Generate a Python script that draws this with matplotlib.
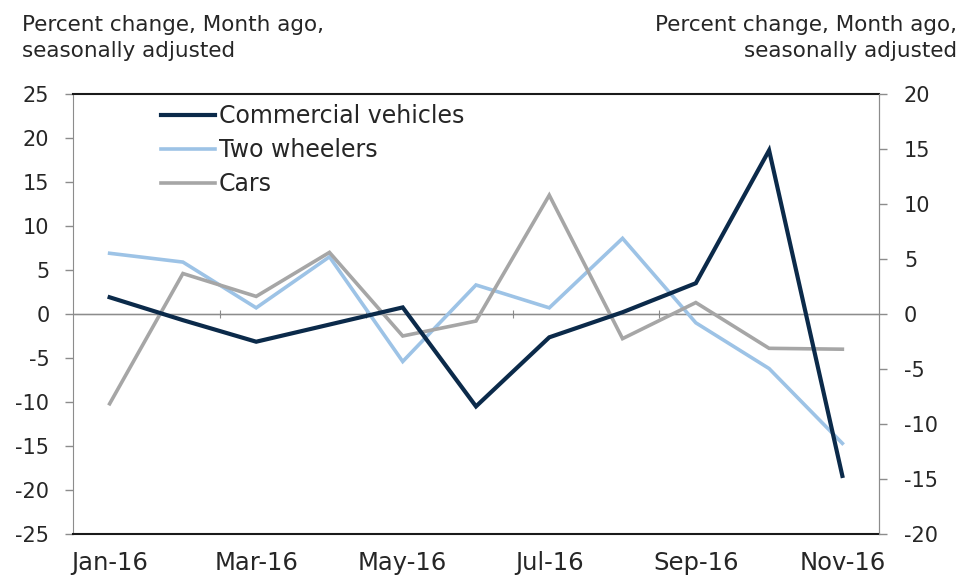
import matplotlib

matplotlib.use("Agg")

import matplotlib.pyplot as plt
import numpy as np

months = ["Jan-16", "Feb-16", "Mar-16", "Apr-16", "May-16", "Jun-16",
          "Jul-16", "Aug-16", "Sep-16", "Oct-16", "Nov-16"]
commercial = [1.9, -0.7, -3.15, -1.2, 0.75, -10.5, -2.65, 0.2, 3.5, 18.6, -18.4]
two_wheelers = [6.9, 5.9, 0.7, 6.5, -5.4, 3.3, 0.7, 8.6, -1.0, -6.2, -14.7]
cars = [-10.2, 4.6, 2.0, 7.0, -2.5, -0.8, 13.5, -2.8, 1.3, -3.9, -4.0]

left_ticks = list(range(-25, 30, 5))
right_ticks = list(range(-20, 25, 5))
header = "Percent change, Month ago,\nseasonally adjusted"

plt.rcParams["font.family"] = ["DejaVu Sans"]
plt.rcParams["axes.unicode_minus"] = False
text_color = "#262626"
spine_gray = "#8c8c8c"

fig = plt.figure(figsize=(9.62, 5.78), dpi=100)
ax = fig.add_axes([73 / 962, 1 - 534 / 578, 806 / 962, 440 / 578])

x = np.arange(len(months))
ax.plot(x, commercial, color="#0b2a4a", lw=3.0, label="Commercial vehicles",
        solid_joinstyle="miter", zorder=4)
ax.plot(x, two_wheelers, color="#9dc3e6", lw=2.6, label="Two wheelers",
        solid_joinstyle="miter", zorder=3)
ax.plot(x, cars, color="#a6a6a6", lw=2.6, label="Cars",
        solid_joinstyle="miter", zorder=3)

ax.set_xlim(-0.5, len(months) - 0.5)
ax.set_ylim(-25, 25)
ax.set_yticks(left_ticks)
ax.set_xticks(x[::2])
ax.set_xticklabels(months[::2], fontsize=17.5, color=text_color)
ax.tick_params(axis="x", length=0, pad=12)
ax.tick_params(axis="y", direction="out", length=6, width=1, colors=spine_gray,
               labelcolor=text_color, labelsize=15, pad=11)

for side in ["top", "bottom"]:
    ax.spines[side].set_color("#1a1a1a")
    ax.spines[side].set_linewidth(1.5)
ax.spines["left"].set_color(spine_gray)
ax.spines["right"].set_color(spine_gray)

# zero line with category-boundary ticks every two months
ax.axhline(0, color=spine_gray, lw=1, zorder=2)
zero_axis = ax.secondary_xaxis(0.5)
zero_axis.set_xticks(np.arange(1.5, len(months) - 1, 2))
zero_axis.set_xticklabels([])
zero_axis.tick_params(direction="inout", length=6, color=spine_gray)
zero_axis.spines["bottom"].set_visible(False)

ax2 = ax.twinx()
ax2.set_ylim(-20, 20)
ax2.set_yticks(right_ticks)
ax2.tick_params(axis="y", direction="out", length=6, width=1, colors=spine_gray,
                labelcolor=text_color, labelsize=15, pad=12)
for side in ["top", "bottom", "left"]:
    ax2.spines[side].set_visible(False)
ax2.spines["right"].set_color(spine_gray)

leg = ax.legend(loc="upper left", bbox_to_anchor=(0.083, 1.025), frameon=False,
                fontsize=17, handlelength=2.3, handletextpad=0.15,
                labelspacing=0.42)
for txt in leg.get_texts():
    txt.set_color(text_color)

fig.text(22 / 962, 1 - 15 / 578, header, ha="left", va="top", fontsize=15.5,
         color=text_color, linespacing=1.4)
fig.text(957 / 962, 1 - 15 / 578, header, ha="right", va="top", fontsize=15.5,
         color=text_color, linespacing=1.4, multialignment="right")

fig.savefig("out.png", dpi=100)
